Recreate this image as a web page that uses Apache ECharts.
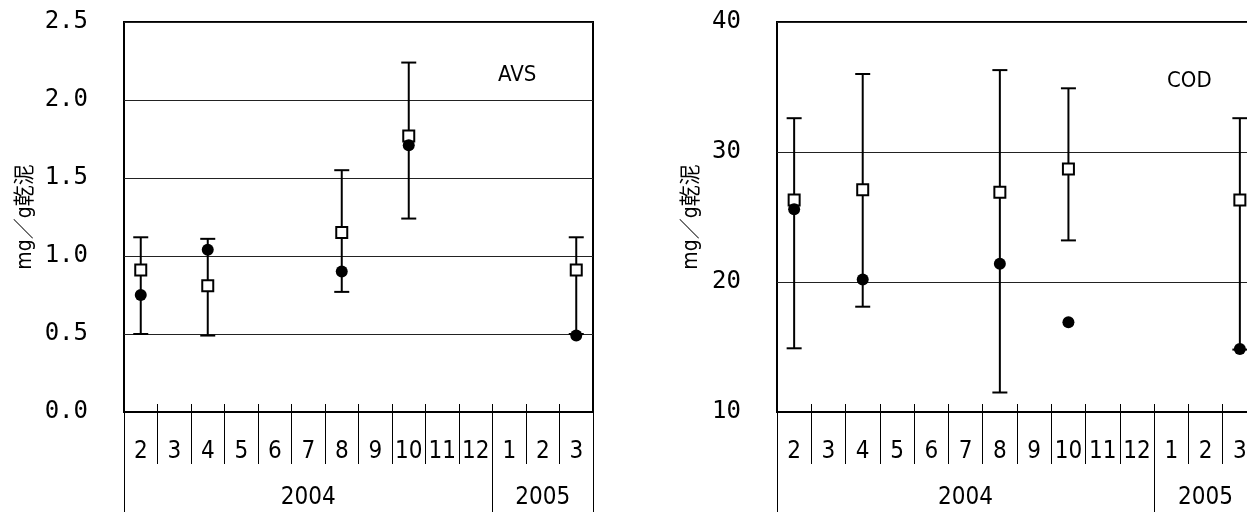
<!DOCTYPE html>
<html>
<head>
<meta charset="utf-8">
<title>AVS・COD</title>
<script src="https://cdn.jsdelivr.net/npm/echarts@6/dist/echarts.min.js"></script>
<style>
  html, body { margin: 0; padding: 0; background: #fff; }
  #chart { width: 1247px; height: 512px; }
</style>
</head>
<body>
<div id="chart"></div>
<script>
// Survey months (Feb 2004 - Mar 2005)
const years = ['2004', '2005'];
const monthsPerYear = [[2, 3, 4, 5, 6, 7, 8, 9, 10, 11, 12], [1, 2, 3]];

// Sampling months
const sampleMonths = ['2004-2', '2004-4', '2004-8', '2004-10', '2005-3'];

// AVS (mg/g dry sludge)
const avsSquare = [0.91, 0.81, 1.15, 1.77, 0.91];
const avsCircle = [0.75, 1.04, 0.90, 1.71, 0.49];
const avsMax = [1.12, 1.11, 1.55, 2.24, 1.12];
const avsMin = [0.50, 0.49, 0.77, 1.24, 0.50];

// COD (mg/g dry sludge)
const codSquare = [26.3, 27.1, 26.9, 28.7, 26.3];
const codCircle = [25.6, 20.2, 21.4, 16.9, 14.85];
const codMax = [32.6, 36.0, 36.3, 34.9, 32.6];
const codMin = [14.9, 18.1, 11.5, 23.2, 14.8];

// Axis ticks
const avsAxis = { min: 0, max: 2.5, interval: 0.5, digits: 1 };
const codAxis = { min: 10, max: 40, interval: 10, digits: 0 };

const yName = 'mg／g乾泥';

// ---- derived category tables ----
const categories = [];
const monthOf = {};
const yearLabelAt = {};
const yearStartIdx = [];
monthsPerYear.forEach((ms, yi) => {
  yearStartIdx.push(categories.length);
  const mid = categories.length + Math.floor((ms.length - 1) / 2);
  ms.forEach((m) => {
    const key = years[yi] + '-' + m;
    monthOf[key] = String(m);
    if (categories.length === mid) yearLabelAt[key] = years[yi];
    categories.push(key);
  });
});

const narrow = '"DejaVu Sans Condensed", "Liberation Sans Narrow", "Noto Sans CJK JP", sans-serif';
const mono = '"DejaVu Sans Mono", "Liberation Mono", monospace';

function xAxesFor(gridIndex) {
  return [
    { // month row
      type: 'category', gridIndex, data: categories, position: 'bottom',
      boundaryGap: true,
      axisLine: { show: true, onZero: false, lineStyle: { color: '#000', width: 2 } },
      axisTick: { show: true, length: 52, interval: 0, lineStyle: { color: '#000', width: 1 } },
      axisLabel: { interval: 0, margin: 28, fontSize: 24, color: '#000', fontFamily: narrow,
        formatter: (v) => monthOf[v] },
      splitLine: { show: false }
    },
    { // short marks above the month row
      type: 'category', gridIndex, data: categories, position: 'bottom',
      axisLine: { show: false, onZero: false },
      axisTick: { show: true, inside: true, length: 8, interval: 0, lineStyle: { color: '#000', width: 1 } },
      axisLabel: { show: false }, splitLine: { show: false }
    },
    { // year row
      type: 'category', gridIndex, data: categories, position: 'bottom',
      axisLine: { show: false, onZero: false },
      axisTick: { show: true, length: 110, lineStyle: { color: '#000', width: 1 },
        interval: (idx) => yearStartIdx.indexOf(idx) >= 0 },
      axisLabel: { interval: 0, margin: 74, fontSize: 24, color: '#000', fontFamily: narrow,
        formatter: (v) => yearLabelAt[v] || '' },
      splitLine: { show: false }
    }
  ];
}

function yAxisFor(gridIndex, ax, gap) {
  return {
    type: 'value', gridIndex, min: ax.min, max: ax.max, interval: ax.interval,
    name: yName, nameLocation: 'middle', nameRotate: 90, nameGap: gap,
    nameTextStyle: { fontSize: 21, color: '#000', fontFamily: narrow },
    axisLine: { show: false }, axisTick: { show: false },
    axisLabel: { margin: 36, fontSize: 24, color: '#000', fontFamily: mono,
      formatter: (v) => v.toFixed(ax.digits) },
    splitLine: { show: true, lineStyle: { color: '#222', width: 1 } }
  };
}

function errorBars(xAxisIndex, yAxisIndex, lo, hi) {
  return {
    type: 'custom', xAxisIndex, yAxisIndex, z: 2,
    data: sampleMonths.map((m, i) => [m, lo[i], hi[i]]),
    renderItem: (params, api) => {
      const x = api.value(0);
      const pLo = api.coord([x, api.value(1)]);
      const pHi = api.coord([x, api.value(2)]);
      const cap = 7.5;
      const style = { stroke: '#000', lineWidth: 2 };
      return {
        type: 'group',
        children: [
          { type: 'line', shape: { x1: pLo[0], y1: pLo[1], x2: pHi[0], y2: pHi[1] }, style },
          { type: 'line', shape: { x1: pHi[0] - cap, y1: pHi[1], x2: pHi[0] + cap, y2: pHi[1] }, style },
          { type: 'line', shape: { x1: pLo[0] - cap, y1: pLo[1], x2: pLo[0] + cap, y2: pLo[1] }, style }
        ]
      };
    }
  };
}

function squares(xAxisIndex, yAxisIndex, vals) {
  return {
    type: 'scatter', xAxisIndex, yAxisIndex, z: 3,
    symbol: 'rect', symbolSize: 11,
    itemStyle: { color: '#fff', borderColor: '#000', borderWidth: 2, opacity: 1 },
    data: sampleMonths.map((m, i) => [m, vals[i]])
  };
}

function circles(xAxisIndex, yAxisIndex, vals) {
  return {
    type: 'scatter', xAxisIndex, yAxisIndex, z: 4,
    symbol: 'circle', symbolSize: 12,
    itemStyle: { color: '#000', opacity: 1 },
    data: sampleMonths.map((m, i) => [m, vals[i]])
  };
}

const chart = echarts.init(document.getElementById('chart'), null, { renderer: 'canvas' });
chart.setOption({
  animation: false,
  backgroundColor: '#fff',
  title: [
    { text: 'AVS', left: 493, top: 59, textStyle: { fontSize: 22, fontWeight: 'normal', color: '#000', fontFamily: narrow } },
    { text: 'COD', left: 1162, top: 65, textStyle: { fontSize: 22, fontWeight: 'normal', color: '#000', fontFamily: narrow } }
  ],
  grid: [
    { left: 124, top: 22, width: 469, height: 390, show: true, borderColor: '#000', borderWidth: 2,
      backgroundColor: 'transparent', outerBoundsMode: 'none' },
    { left: 777, top: 22, width: 480, height: 390, show: true, borderColor: '#000', borderWidth: 2,
      backgroundColor: 'transparent', outerBoundsMode: 'none' }
  ],
  xAxis: [...xAxesFor(0), ...xAxesFor(1)],
  yAxis: [yAxisFor(0, avsAxis, 88), yAxisFor(1, codAxis, 75)],
  series: [
    errorBars(0, 0, avsMin, avsMax),
    squares(0, 0, avsSquare),
    circles(0, 0, avsCircle),
    errorBars(3, 1, codMin, codMax),
    squares(3, 1, codSquare),
    circles(3, 1, codCircle)
  ]
});
</script>
</body>
</html>
